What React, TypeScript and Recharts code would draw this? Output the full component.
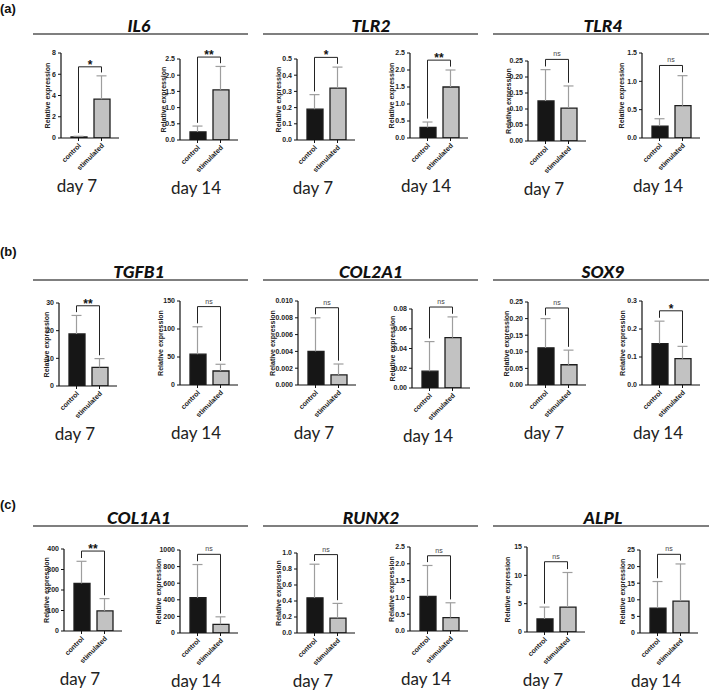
import React from 'react';
import { BarChart, Bar, Cell, XAxis, YAxis, ReferenceLine, ReferenceDot } from 'recharts';

// chart order: row by row, day 7 then day 14 for each gene
const genes = ['IL6', 'TLR2', 'TLR4', 'TGFB1', 'COL2A1', 'SOX9', 'COL1A1', 'RUNX2', 'ALPL'];
const days = ['day 7', 'day 14'];
const groups = ['control', 'stimulated'];
const panelLabels = ['(a)', '(b)', '(c)'];

const controlMean = [0.1, 0.25, 0.19, 0.31, 0.125, 0.21, 18.8, 55, 0.004, 0.017, 0.112, 0.148, 232, 425, 0.44, 1.03, 2.3, 7.5];
const controlSd = [0.06, 0.18, 0.09, 0.16, 0.098, 0.13, 6.7, 49, 0.004, 0.03, 0.088, 0.08, 108, 400, 0.42, 0.92, 2.1, 8.0];
const stimMean = [3.65, 1.55, 0.32, 1.5, 0.103, 0.57, 6.7, 25, 0.0012, 0.051, 0.061, 0.094, 98, 105, 0.185, 0.4, 4.4, 9.6];
const stimSd = [2.2, 0.72, 0.13, 0.5, 0.069, 0.53, 3.2, 12, 0.0013, 0.021, 0.044, 0.044, 60, 90, 0.185, 0.44, 6.1, 11.2];

const yMax = [8, 2.5, 0.5, 2.5, 0.25, 1.5, 30, 150, 0.01, 0.08, 0.25, 0.3, 400, 1000, 1, 2.5, 15, 25];
const yStep = [2, 0.5, 0.1, 0.5, 0.05, 0.5, 10, 50, 0.002, 0.02, 0.05, 0.1, 100, 200, 0.2, 0.5, 5, 5];
const yDecimals = [0, 1, 1, 1, 2, 1, 0, 0, 3, 2, 2, 1, 0, 0, 1, 1, 0, 0];
const sigText = ['*', '**', '*', '**', 'ns', 'ns', '**', 'ns', 'ns', 'ns', 'ns', '*', '**', 'ns', 'ns', 'ns', 'ns', 'ns'];
const bracketAt = [6.7, 2.56, 0.51, 2.29, 0.255, 1.28, 29, 140, 0.0092, 0.082, 0.232, 0.265, 390, 948, 0.98, 2.24, 12.4, 23.7];

// layout (page pixels)
const axisX = [61, 180, 297, 410, 528, 642, 59, 180, 298, 412, 528, 642, 64, 180, 297, 410, 527, 640];
const topY = [53, 59, 59, 53, 61, 53, 303, 301, 301, 309, 302, 301, 549, 550, 553, 547, 547, 550];
const zeroY = [138, 140, 140, 138, 141, 138, 386, 385, 385, 388, 385, 385, 631, 633, 633, 631, 632, 633];
const labelOff = [13.5, 17, 19, 19, 20, 21, 13, 20, 26, 20, 22, 20, 18, 22, 19, 19, 20, 18];
const titleX = [139, 371, 603];
const rowBase = [32, 278, 524];
const panelY = [13, 256, 509];
const lineSpans = [[33, 248], [263, 478], [493, 709]];

const ARIAL = '"Liberation Sans", Arial, sans-serif';
const TITLE_FONT = 'Lato, "Liberation Sans", sans-serif';
const barFill = ['#161616', '#c2c2c2'];

const PLOT_W = 58;
const YW = 50;
const MT = 26;
const XH = 44;
const MR = 4;

const XTick = (p: any) => {
  const x = p.x + 3;
  const y = p.y + 3;
  return (
    <text x={x} y={y} transform={`rotate(-45 ${x} ${y})`} textAnchor="end"
      fontSize={7} fontWeight={700} fontFamily={ARIAL} fill="#222">
      {p.payload.value}
    </text>
  );
};

const YLabel = (p: any) => {
  const vb = p.viewBox || {};
  const x = vb.x + vb.width - p.off;
  const y = vb.y + vb.height / 2;
  return (
    <text x={x} y={y} transform={`rotate(-90 ${x} ${y})`} textAnchor="middle" dominantBaseline="central"
      fontSize={7} fontWeight={700} fontFamily={ARIAL} fill="#222">
      Relative expression
    </text>
  );
};

const SigLabel = (p: any) => {
  const vb = p.viewBox || {};
  const x = vb.x + (vb.width || 0) / 2;
  const ns = p.text === 'ns';
  return (
    <text x={x} y={vb.y + (ns ? -3 : 2)} textAnchor="middle"
      fontSize={ns ? 7 : 12} fontWeight={ns ? 400 : 700} fontFamily={ARIAL} fill={ns ? '#444' : '#111'}>
      {p.text}
    </text>
  );
};

const capShape = (p: any) => (
  <line x1={p.cx - 5} x2={p.cx + 5} y1={p.cy} y2={p.cy} stroke="#9e9e9e" strokeWidth={1.2} />
);

function GeneChart({ i }: { i: number }) {
  const data = [
    { group: groups[0], value: controlMean[i], sd: controlSd[i] },
    { group: groups[1], value: stimMean[i], sd: stimSd[i] },
  ];
  const max = yMax[i];
  const ticks: number[] = [];
  for (let k = 0; k <= Math.round(max / yStep[i]); k++) ticks.push(+(k * yStep[i]).toFixed(6));
  const plotH = zeroY[i] - topY[i];
  const level = bracketAt[i];
  const gap = max * 0.04;

  return (
    <div style={{ position: 'absolute', left: axisX[i] - YW, top: topY[i] - MT }}>
      <BarChart width={YW + PLOT_W + MR} height={MT + plotH + XH} data={data}
        margin={{ top: MT, right: MR, left: 0, bottom: 0 }} barSize={16}>
        <XAxis dataKey="group" type="category" height={XH} padding={{ left: 6, right: 6 }}
          axisLine={{ stroke: '#111', strokeWidth: 1.2 }} tickLine={{ stroke: '#111' }} tickSize={3}
          tick={<XTick />} interval={0} />
        <YAxis type="number" domain={[0, max]} ticks={ticks} interval={0} width={YW} allowDataOverflow
          tickSize={3} tickFormatter={(v: number) => v.toFixed(yDecimals[i])}
          tick={{ fontSize: 7, fontWeight: 700, fill: '#222', fontFamily: ARIAL }}
          axisLine={{ stroke: '#111', strokeWidth: 1.2 }} tickLine={{ stroke: '#111' }}
          label={<YLabel off={labelOff[i]} />} />
        <Bar dataKey="value" isAnimationActive={false} stroke="#1e1e1e" strokeWidth={1.3}>
          {data.map((d, k) => <Cell key={k} fill={barFill[k]} />)}
        </Bar>
        {data.map((d, k) => (
          <ReferenceLine key={'e' + k} ifOverflow="visible" stroke="#9e9e9e" strokeWidth={1.2}
            segment={[{ x: d.group, y: d.value }, { x: d.group, y: d.value + d.sd }]} />
        ))}
        {data.map((d, k) => (
          <ReferenceDot key={'c' + k} x={d.group} y={d.value + d.sd} ifOverflow="visible" shape={capShape} />
        ))}
        <ReferenceLine ifOverflow="visible" stroke="#222" strokeWidth={1}
          segment={[{ x: groups[0], y: level }, { x: groups[1], y: level }]}
          label={<SigLabel text={sigText[i]} />} />
        {data.map((d, k) => (
          <ReferenceLine key={'l' + k} ifOverflow="visible" stroke="#222" strokeWidth={1}
            segment={[{ x: d.group, y: level }, { x: d.group, y: Math.min(level, d.value + d.sd + gap) }]} />
        ))}
      </BarChart>
    </div>
  );
}

export default function App() {
  return (
    <div style={{ position: 'absolute', left: 0, top: 0, width: 709, height: 690, background: '#fff', overflow: 'hidden' }}>
      <svg width={709} height={690} style={{ position: 'absolute', left: 0, top: 0 }}>
        {panelLabels.map((t, r) => (
          <text key={t} x={0} y={panelY[r]} fontSize={13} fontWeight={700} fontFamily={ARIAL} fill="#111">{t}</text>
        ))}
        {genes.map((g, n) => {
          const r = Math.floor(n / 3);
          const c = n % 3;
          return (
            <g key={g}>
              <text x={titleX[c]} y={rowBase[r]} textAnchor="middle" fontSize={17.5} fontWeight={900}
                fontStyle="italic" fontFamily={TITLE_FONT} fill="#111">{g}</text>
              <line x1={lineSpans[c][0]} x2={lineSpans[c][1]} y1={rowBase[r] + 2} y2={rowBase[r] + 2}
                stroke="#555" strokeWidth={1.6} />
            </g>
          );
        })}
        {axisX.map((x, i) => (
          <text key={i} x={x + 16} y={zeroY[i] + 54} textAnchor="middle" fontSize={17}
            fontFamily={TITLE_FONT} fill="#222">{days[i % 2]}</text>
        ))}
      </svg>
      {axisX.map((_, i) => <GeneChart key={i} i={i} />)}
    </div>
  );
}
